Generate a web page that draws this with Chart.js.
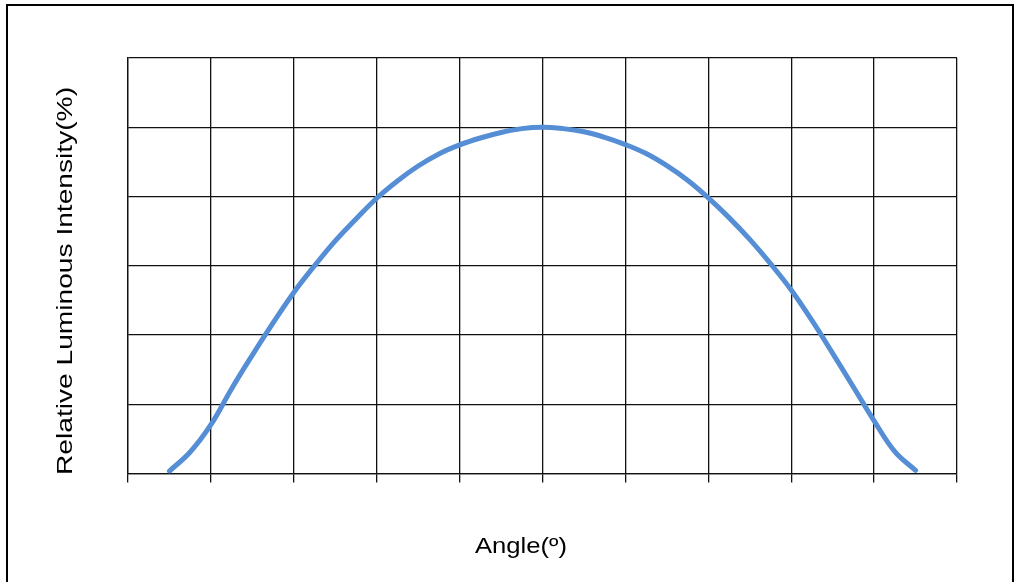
<!DOCTYPE html>
<html>
<head>
<meta charset="utf-8">
<script src="https://cdn.jsdelivr.net/npm/chart.js@4/dist/chart.umd.min.js"></script>
<style>
  html, body { margin: 0; padding: 0; background: #fff; }
  #wrap { width: 1014px; height: 582px; position: relative; }
</style>
</head>
<body>
<div id="wrap"><canvas id="c" width="1014" height="582"></canvas></div>
<script>
// Data
const angles = [-90, -85, -80, -75, -70, -65, -60, -55, -50, -45, -40, -35, -30, -25, -20, -15, -10, -5,
                0, 5, 10, 15, 20, 25, 30, 35, 40, 45, 50, 55, 60, 65, 70, 75, 80, 85, 90];
const intensity = [0.7, 6.2, 14.1, 24.5, 34.2, 43.5, 52.3, 60.0, 67.2, 73.5, 79.5, 84.5, 88.8, 92.3, 94.9, 96.9, 98.5, 99.6,
                   100, 99.6, 98.7, 97.1, 95.0, 92.4, 88.9, 84.7, 79.6, 73.9, 67.6, 60.6, 53.0, 44.2, 34.7, 25.0, 15.2, 6.3, 0.9];
const xTitle = 'Angle(º)';
const yTitle = 'Relative Luminous Intensity(%)';
const xRange = [-100, 100];
const yRange = [0, 120];

const points = angles.map((a, i) => ({ x: a, y: intensity[i] }));

const decorPlugin = {
  id: 'decor',
  afterDraw(chart) {
    const ctx = chart.ctx;
    ctx.save();
    // outer frame
    ctx.strokeStyle = '#000';
    ctx.lineWidth = 2;
    ctx.strokeRect(7, 5, 1006, 600);
    // axis titles (stretched to match reference)
    ctx.fillStyle = '#000';
    ctx.font = '22px "Liberation Sans", Arial, sans-serif';
    ctx.textAlign = 'left';
    ctx.textBaseline = 'alphabetic';
    let w = ctx.measureText(xTitle).width;
    ctx.save();
    ctx.translate(475, 553);
    ctx.scale(92 / w, 1);
    ctx.fillText(xTitle, 0, 0);
    ctx.restore();
    w = ctx.measureText(yTitle).width;
    ctx.save();
    ctx.translate(71.5, 475);
    ctx.rotate(-Math.PI / 2);
    ctx.scale(388 / w, 1);
    ctx.fillText(yTitle, 0, 0);
    ctx.restore();
    ctx.restore();
  }
};

new Chart(document.getElementById('c'), {
  type: 'line',
  data: {
    datasets: [{
      data: points,
      borderColor: 'rgb(85,142,213)',
      borderWidth: 5,
      pointRadius: 0,
      fill: false,
      tension: 0.4,
      borderCapStyle: 'round',
      borderJoinStyle: 'round'
    }]
  },
  options: {
    responsive: false,
    animation: false,
    devicePixelRatio: 1,
    layout: { padding: { left: 128, top: 58, right: 57, bottom: 99.5 } },
    plugins: { legend: { display: false }, tooltip: { enabled: false }, title: { display: false } },
    scales: {
      x: {
        type: 'linear',
        min: xRange[0], max: xRange[1],
        ticks: { display: false, stepSize: 20 },
        grid: { color: '#111', lineWidth: 1.3, drawTicks: true, tickLength: 9 },
        border: { display: true, color: '#111', width: 1.3 },
        title: { display: false }
      },
      y: {
        type: 'linear',
        min: yRange[0], max: yRange[1],
        ticks: { display: false, stepSize: 20 },
        grid: { color: '#111', lineWidth: 1.3, drawTicks: false },
        border: { display: true, color: '#111', width: 1.3 },
        title: { display: false }
      }
    }
  },
  plugins: [decorPlugin]
});
</script>
</body>
</html>
